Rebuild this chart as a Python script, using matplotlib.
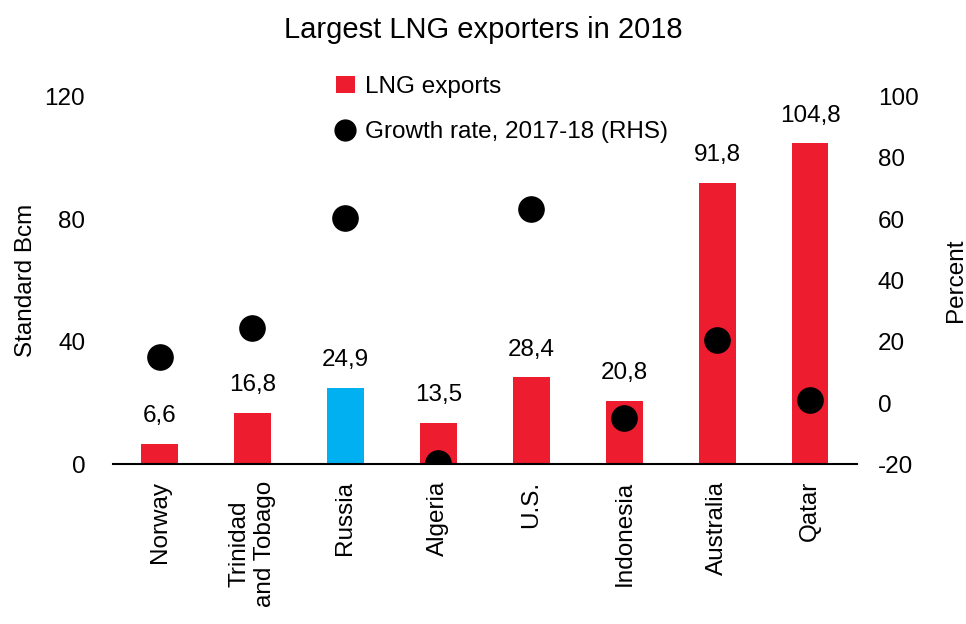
import matplotlib
matplotlib.use("Agg")
import matplotlib.pyplot as plt
from matplotlib import font_manager
from matplotlib.lines import Line2D
from matplotlib.patches import Patch

names = {f.name for f in font_manager.fontManager.ttflist}
fam = ["Liberation Sans Narrow", "Liberation Sans", "DejaVu Sans"]
fam = [f for f in fam if f in names] or ["DejaVu Sans"]
plt.rcParams["font.family"] = fam
plt.rcParams["axes.unicode_minus"] = False

countries = ["Norway", "Trinidad\nand Tobago", "Russia", "Algeria", "U.S.",
             "Indonesia", "Australia", "Qatar"]
exports = [6.6, 16.8, 24.9, 13.5, 28.4, 20.8, 91.8, 104.8]
growth = [15, 24.5, 60.5, -19.5, 63.5, -5, 20.5, 1]
export_labels = ["6,6", "16,8", "24,9", "13,5", "28,4", "20,8", "91,8", "104,8"]
left_ticks = [0, 40, 80, 120]
right_ticks = [-20, 0, 20, 40, 60, 80, 100]

RED = "#ED1C2E"
BLUE = "#00B0F0"
colors = [BLUE if c == "Russia" else RED for c in countries]

FS = 17.5

fig = plt.figure(figsize=(9.66, 6.24), dpi=100)
ax = fig.add_axes([0.117, 0.256, 0.770, 0.589])
ax2 = ax.twinx()

x = list(range(len(countries)))
ax.bar(x, exports, width=0.39, color=colors, zorder=2)
for xi, v, lab in zip(x, exports, export_labels):
    ax.annotate(lab, (xi, v), xytext=(0, 12), textcoords="offset points",
                ha="center", va="bottom", fontsize=FS)

ax2.scatter(x, growth, s=330, color="black", zorder=3)

ax.set_xlim(-0.5, len(countries) - 0.5)
ax.set_ylim(0, 120)
ax2.set_ylim(-20, 100)
ax.set_yticks(left_ticks)
ax2.set_yticks(right_ticks)
ax.set_xticks(x)
ax.set_xticklabels(countries, rotation=90, fontsize=FS, multialignment="center")
ax.tick_params(axis="x", length=0, pad=12)
ax.tick_params(axis="y", length=0, labelsize=FS, pad=20)
ax2.tick_params(axis="y", length=0, labelsize=FS, pad=15)

for a in (ax, ax2):
    for s in ("top", "left", "right", "bottom"):
        a.spines[s].set_visible(False)
ax.spines["bottom"].set_visible(True)
ax.spines["bottom"].set_linewidth(1.5)
ax.spines["bottom"].set_zorder(5)
ax.set_zorder(ax2.get_zorder() - 1)
ax2.patch.set_visible(False)

ax.set_ylabel("Standard Bcm", fontsize=FS)
ax.yaxis.set_label_coords(-0.102, 0.5)
ax2.set_ylabel("Percent", fontsize=FS, rotation=90)
ax2.yaxis.set_label_coords(1.118, 0.5)

fig.suptitle("Largest LNG exporters in 2018", fontsize=21, y=0.975)

handles = [Patch(facecolor=RED, edgecolor="none"),
           Line2D([], [], marker="o", color="black", linestyle="none", markersize=15)]
ax2.legend(handles, ["LNG exports", "Growth rate, 2017-18 (RHS)"],
           loc="upper left", bbox_to_anchor=(0.27, 1.115), frameon=False,
           fontsize=FS, handlelength=0.8, handletextpad=0.4, labelspacing=0.95)

fig.savefig("out.png", dpi=100)
